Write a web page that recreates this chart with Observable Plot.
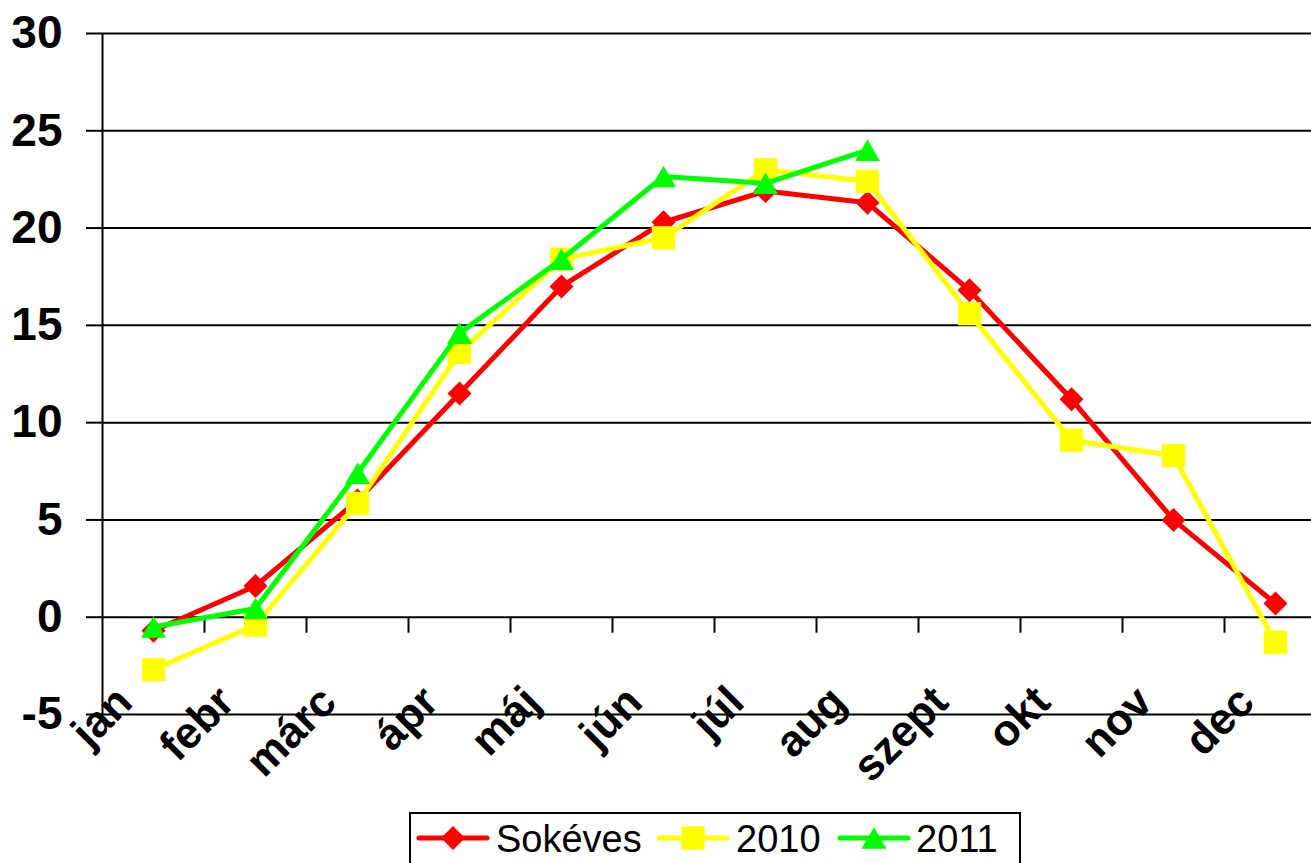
<!DOCTYPE html>
<html><head><meta charset="utf-8">
<script src="https://cdn.jsdelivr.net/npm/d3@7"></script>
<script src="https://cdn.jsdelivr.net/npm/@observablehq/plot@0.6"></script>
<style>
body{margin:0;background:#fff;}
#wrap{position:relative;width:1311px;height:863px;overflow:hidden;font-family:"Liberation Sans",Arial,sans-serif;background:#fff;}
#legend{position:absolute;left:409px;top:812px;}
</style></head><body><div id="wrap"><div id="chart"></div><div id="legend"></div></div>
<script>
const months = ["jan","febr","márc","ápr","máj","jún","júl","aug","szept","okt","nov","dec"];
const sokeves = [-0.7, 1.6, 6.0, 11.5, 17.0, 20.3, 21.9, 21.3, 16.8, 11.2, 5.0, 0.7];
const y2010   = [-2.7, -0.4, 5.85, 13.6, 18.4, 19.5, 23.0, 22.4, 15.6, 9.1, 8.3, -1.3];
const y2011   = [-0.5, 0.45, 7.4, 14.6, 18.4, 22.65, 22.3, 24.0, null, null, null, null];
const seriesNames = ["Sokéves", "2010", "2011"];
const seriesColors = ["#ff0000", "#ffff00", "#00ff00"];
const yTicks = [-5, 0, 5, 10, 15, 20, 25, 30];

const seriesValues = [sokeves, y2010, y2011];
const symbols = ["diamond2", "square2", "triangle2"];
const radii = [10.8, 14.8, 11.9];
const symDy = [0, 0, 3.6];

const series = seriesNames.map((name, si) => ({
  name, color: seriesColors[si],
  rows: seriesValues[si].map((v, i) => ({month: months[i], value: v})).filter(d => d.value != null)
}));

const half = 51;
const marks = [
  Plot.ruleY(yTicks, {stroke: "#000", strokeWidth: 2}),
  Plot.axisY({ticks: yTicks, tickSize: 16, tickPadding: 24, fontSize: 46, fontWeight: "bold",
              strokeWidth: 2, label: null, tickFormat: d => String(d)}),
  Plot.ruleX([months[0]], {x: d => d, y1: yTicks[0], y2: yTicks[yTicks.length - 1], dx: -half, stroke: "#000", strokeWidth: 2}),
  Plot.ruleX(months.slice(1), {x: d => d, y1: 0, y2: 0, dx: -half, insetBottom: -16, stroke: "#000", strokeWidth: 2}),
  Plot.text(months, {x: d => d, frameAnchor: "bottom", rotate: -45, textAnchor: "end", lineAnchor: "bottom",
                     dx: -19, dy: -10, fontSize: 44, fontWeight: "bold", fill: "#000"})
];
series.forEach((s, si) => {
  marks.push(Plot.line(s.rows, {x: "month", y: "value", stroke: s.color, strokeWidth: 5, strokeLinejoin: "round"}));
  marks.push(Plot.dot(s.rows, {x: "month", y: "value", symbol: symbols[si], r: radii[si], fill: s.color, stroke: "none", dy: symDy[si]}));
});

const chart = Plot.plot({
  width: 1311, height: 800,
  marginLeft: 102, marginRight: 0, marginTop: 33, marginBottom: 86,
  style: {fontFamily: "'Liberation Sans', Arial, sans-serif", background: "white", color: "#000", overflow: "visible"},
  x: {type: "band", domain: months, range: [102, 1326], padding: 0, axis: null},
  y: {domain: [-5, 30]},
  marks
});
document.getElementById("chart").appendChild(chart);

// Legend
const lineX = [10, 250, 431];
const textX = [87, 327, 507];
const leg = d3.select("#legend").append("svg").attr("width", 614).attr("height", 60)
  .style("font-family", "'Liberation Sans', Arial, sans-serif");
leg.append("rect").attr("x", 1).attr("y", 1).attr("width", 610).attr("height", 80)
  .attr("fill", "white").attr("stroke", "#000").attr("stroke-width", 2);
const d3sym = {diamond2: d3.symbolDiamond2, square2: d3.symbolSquare2, triangle2: d3.symbolTriangle2};
series.forEach((s, si) => {
  const g = leg.append("g");
  const cy = 26;
  g.append("line").attr("x1", lineX[si]).attr("x2", lineX[si] + 68).attr("y1", cy).attr("y2", cy)
    .attr("stroke", s.color).attr("stroke-width", 5).attr("stroke-linecap", "round");
  g.append("path").attr("d", d3.symbol(d3sym[symbols[si]], Math.PI * radii[si] * radii[si])())
    .attr("transform", `translate(${lineX[si] + 34},${cy + symDy[si]})`).attr("fill", s.color);
  g.append("text").attr("x", textX[si]).attr("y", cy + 14).attr("font-size", 38).attr("fill", "#000").text(s.name);
});
</script></body></html>
